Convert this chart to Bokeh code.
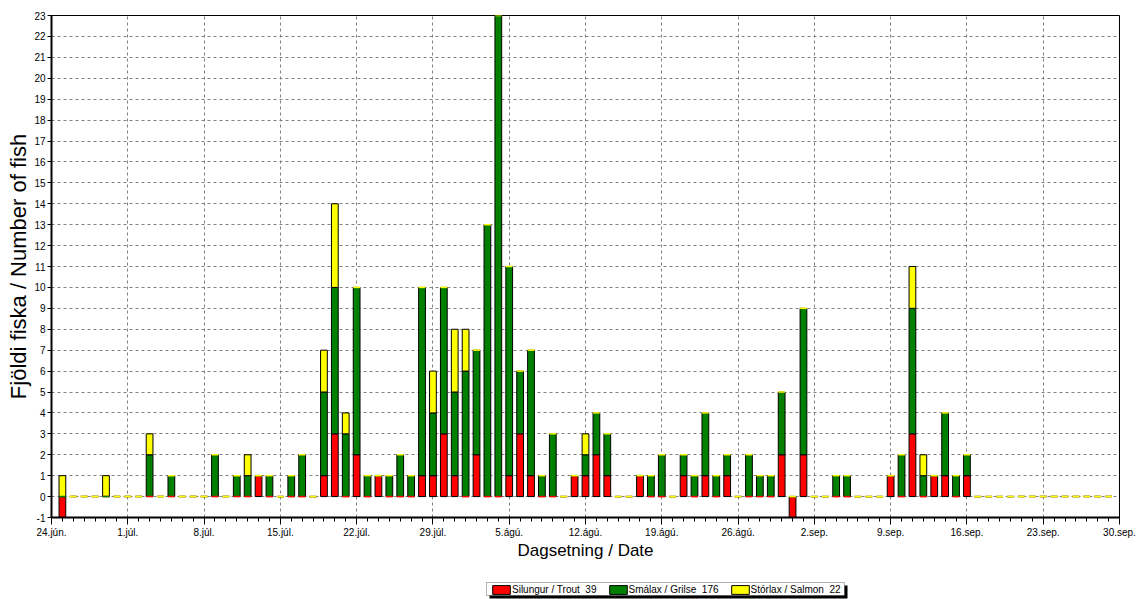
import pandas as pd
from bokeh.plotting import figure
from bokeh.layouts import column
from bokeh.models import (ColumnDataSource, FixedTicker, Legend, LegendItem, Range1d,
                          BoxAnnotation)
from bokeh.embed import file_html
from bokeh.resources import INLINE

# ---------------- data ----------------
YEAR = 2024
axis_start = "06-24"
axis_end = "09-30"
season_first = "06-25"
season_last = "09-29"

catch_dates = ["06-25", "06-29", "07-03", "07-05", "07-09", "07-11", "07-12", "07-13",
               "07-14", "07-16", "07-17", "07-19", "07-20", "07-21", "07-22", "07-23",
               "07-24", "07-25", "07-26", "07-27", "07-28", "07-29", "07-30", "07-31",
               "08-01", "08-02", "08-03", "08-04", "08-05", "08-06", "08-07", "08-08",
               "08-09", "08-11", "08-12", "08-13", "08-14", "08-17", "08-18", "08-19",
               "08-21", "08-22", "08-23", "08-24", "08-25", "08-27", "08-28", "08-29",
               "08-30", "08-31", "09-01", "09-04", "09-05", "09-09", "09-10", "09-11",
               "09-12", "09-13", "09-14", "09-15", "09-16"]
trout = [-1, 0, 0, 0, 0, 0, 0, 1,
         0, 0, 0, 1, 3, 0, 2, 0,
         1, 0, 0, 0, 1, 1, 3, 1,
         0, 2, 0, 0, 1, 3, 1, 0,
         0, 1, 1, 2, 1, 1, 0, 0,
         1, 0, 1, 0, 1, 0, 0, 0,
         2, -1, 2, 0, 0, 1, 0, 3,
         0, 1, 1, 0, 1]
grilse = [0, 0, 2, 1, 2, 1, 1, 0,
          1, 1, 2, 4, 7, 3, 8, 1,
          0, 1, 2, 1, 9, 3, 7, 4,
          6, 5, 13, 23, 10, 3, 6, 1,
          3, 0, 1, 2, 2, 0, 1, 2,
          1, 1, 3, 1, 1, 2, 1, 1,
          3, 0, 7, 1, 1, 0, 2, 6,
          1, 0, 3, 1, 1]
salmon = [1, 1, 1, 0, 0, 0, 1, 0,
          0, 0, 0, 2, 4, 1, 0, 0,
          0, 0, 0, 0, 0, 2, 0, 3,
          2, 0, 0, 0, 0, 0, 0, 0,
          0, 0, 1, 0, 0, 0, 0, 0,
          0, 0, 0, 0, 0, 0, 0, 0,
          0, 0, 0, 0, 0, 0, 0, 2,
          1, 0, 0, 0, 0]

series_names = ["Silungur / Trout", "Smálax / Grilse", "Stórlax / Salmon"]
series_colors = ["#ff0000", "#008000", "#ffff00"]

tick_dates = ["06-24", "07-01", "07-08", "07-15", "07-22", "07-29", "08-05", "08-12",
              "08-19", "08-26", "09-02", "09-09", "09-16", "09-23", "09-30"]
tick_labels = ["24.jún.", "1.júl.", "8.júl.", "15.júl.", "22.júl.", "29.júl.", "5.ágú.",
               "12.ágú.", "19.ágú.", "26.ágú.", "2.sep.", "9.sep.", "16.sep.", "23.sep.",
               "30.sep."]

x_title = "Dagsetning / Date"
y_title = "Fjöldi fiska / Number of fish"

# ---------------- derived ----------------
t0 = pd.Timestamp(f"{YEAR}-{axis_start}")


def off(md):
    return (pd.Timestamp(f"{YEAR}-{md}") - t0).days


x_end = off(axis_end)
lookup = {off(d): (t, g, s) for d, t, g, s in zip(catch_dates, trout, grilse, salmon)}
days = list(range(off(season_first), off(season_last) + 1))

BW = 0.62
rows = {k: [] for k in ["x", "tb", "tt", "gb", "gt", "sb", "st", "t", "g", "s"]}
for d in days:
    t, g, s = lookup.get(d, (0, 0, 0))
    tb, tt = min(t, 0), max(t, 0)
    gb, gt = tt, tt + g
    sb, st = gt, gt + s
    for k, v in zip(rows.keys(), [d, tb, tt, gb, gt, sb, st, t, g, s]):
        rows[k].append(v)
df = pd.DataFrame(rows)
df["x0"] = df["x"] - BW / 2
df["x1"] = df["x"] + BW / 2

FONT = "Liberation Sans"
W = 1136
H_MAIN = 562
H_LEG = 37
BL, BR = 51, 17   # left / right borders shared by both rows

p = figure(width=W, height=H_MAIN, output_backend="svg", toolbar_location=None,
           x_range=Range1d(0, x_end), y_range=Range1d(-1, 23),
           min_border_left=BL, min_border_right=BR, min_border_top=15, min_border_bottom=45)
p.background_fill_color = "white"
p.border_fill_color = "white"
p.outline_line_color = "black"
p.outline_line_width = 1

# grid
p.xgrid.ticker = FixedTicker(ticks=[off(d) for d in tick_dates])
p.ygrid.ticker = FixedTicker(ticks=list(range(0, 23)))
for gr in (p.xgrid, p.ygrid):
    gr.grid_line_color = "#808080"
    gr.grid_line_dash = "3 3"
    gr.grid_line_width = 1

# bars
for (col, bcol, tcol), color in zip([("t", "tb", "tt"), ("g", "gb", "gt"), ("s", "sb", "st")],
                                    series_colors):
    sub = df[df[col] != 0]
    p.vbar(x="x", bottom=bcol, top=tcol, width=BW, source=ColumnDataSource(sub),
           fill_color=color, line_color="black", line_width=1)

# zero-height components drawn as coloured strokes
for (col, ycol), color in zip([("t", "tt"), ("g", "gb"), ("s", "sb")], series_colors):
    sub = df[df[col] == 0]
    p.segment(x0="x0", x1="x1", y0=ycol, y1=ycol, source=ColumnDataSource(sub),
              line_color=color, line_width=1.5)

# axes
xa = p.xaxis[0]
xa.ticker = FixedTicker(ticks=[off(d) for d in tick_dates], minor_ticks=list(range(0, x_end + 1)))
xa.major_label_overrides = {off(d): lab for d, lab in zip(tick_dates, tick_labels)}
ya = p.yaxis[0]
ya.ticker = FixedTicker(ticks=list(range(-1, 24)))
ya.major_label_overrides = {-1: "-1"}

for ax in (xa, ya):
    ax.axis_line_color = "black"
    ax.axis_line_width = 2
    ax.major_tick_line_color = "black"
    ax.minor_tick_line_color = "black"
    ax.major_tick_in = 0
    ax.minor_tick_in = 0
    ax.major_label_text_font = FONT
    ax.major_label_text_font_size = "10px"
    ax.major_label_text_color = "black"
    ax.axis_label_text_font = FONT
    ax.axis_label_text_font_style = "normal"
    ax.axis_label_text_color = "black"

xa.major_tick_out = 7
xa.minor_tick_out = 4
xa.major_label_standoff = 2
xa.axis_label = x_title
xa.axis_label_text_font_size = "17px"
xa.axis_label_standoff = 0

ya.major_tick_out = 4
ya.minor_tick_out = 0
ya.major_label_standoff = 2
ya.axis_label = y_title
ya.axis_label_text_font_size = "22px"
ya.axis_label_standoff = 0

# ---------------- legend strip below the chart (pixel-unit ranges) ----------------
q = figure(width=W, height=H_LEG, output_backend="svg", toolbar_location=None,
           x_range=Range1d(BL, W - BR), y_range=Range1d(0, H_LEG),
           x_axis_location=None, y_axis_location=None,
           min_border_left=BL, min_border_right=BR, min_border_top=0, min_border_bottom=0)
q.grid.visible = False
q.outline_line_color = None
q.background_fill_color = "white"
q.border_fill_color = "white"

# legend frame with drop shadow
q.add_layout(BoxAnnotation(left=489, right=847, top=14, bottom=1,
                           fill_color="black", fill_alpha=1, line_color=None))
q.add_layout(BoxAnnotation(left=486, right=844, top=17, bottom=4,
                           fill_color="white", fill_alpha=1, line_color="black", line_width=1))

# swatch renderers (kept outside the visible range; only their legend glyphs show)
swatches = [q.vbar(x=[0], top=[0], bottom=[0], width=1, fill_color=c, line_color="black",
                   line_width=1) for c in series_colors]
totals = [sum(trout), sum(grilse), sum(salmon)]
labels = [f"{n}\u00a0 {tot}" for n, tot in zip(series_names, totals)]

legend = Legend(items=[LegendItem(label=lab, renderers=[r]) for lab, r in zip(labels, swatches)],
                location=(439, 4), orientation="horizontal",
                border_line_color=None, background_fill_alpha=0,
                padding=0, margin=0, spacing=10, label_standoff=0,
                glyph_width=22, glyph_height=11, label_height=11,
                label_text_font=FONT, label_text_font_size="10px", label_text_color="black")
q.add_layout(legend)

layout = column(p, q, spacing=0)
open("out.html", "w").write(file_html(layout, INLINE))
